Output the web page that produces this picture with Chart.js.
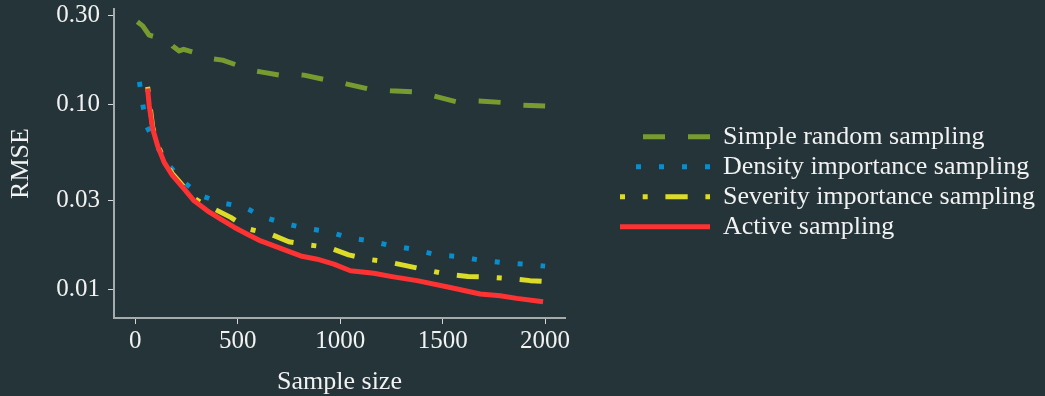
<!DOCTYPE html>
<html>
<head>
<meta charset="utf-8">
<script src="https://cdn.jsdelivr.net/npm/chart.js@4.4.1/dist/chart.umd.min.js"></script>
<style>
  html, body { margin: 0; padding: 0; background: #243439; }
  canvas { display: block; }
</style>
</head>
<body>
<canvas id="c" width="1045" height="396"></canvas>
<script>
// ---------------- data ----------------
const seriesNames = ['Simple random sampling', 'Density importance sampling', 'Severity importance sampling', 'Active sampling'];

const randomX = [10, 36, 68, 166, 182, 214, 236, 333, 369, 426, 528, 563, 612, 725, 774, 823, 953, 993, 1034, 1144, 1196, 1245, 1358, 1407, 1453, 1570, 1618, 1667, 1789, 1837, 1886, 2000];
const randomY = [0.279, 0.265, 0.236, 0.220, 0.2065, 0.194, 0.198, 0.184, 0.1766, 0.173, 0.158, 0.153, 0.1495, 0.1423, 0.1453, 0.1435, 0.1337, 0.132, 0.1283, 0.1205, 0.119, 0.118, 0.1165, 0.1146, 0.111, 0.1028, 0.1042, 0.1042, 0.1021, 0.100, 0.0988, 0.0978];

const densityX = [20, 36, 57, 106, 166, 231, 315, 421, 527, 622, 724, 830, 937, 1039, 1146, 1253, 1360, 1469, 1577, 1685, 1795, 1906, 2000];
const densityY = [0.132, 0.100, 0.0754, 0.059, 0.0464, 0.0384, 0.0322, 0.0292, 0.0279, 0.0246, 0.0227, 0.0213, 0.0205, 0.019, 0.0182, 0.0171, 0.0164, 0.0153, 0.015, 0.0143, 0.0139, 0.0136, 0.0133];

const severityX = [60, 85, 109, 141, 182, 239, 287, 340, 385, 466, 555, 661, 749, 847, 943, 1041, 1131, 1235, 1332, 1431, 1527, 1624, 1723, 1829, 1927, 1990];
const severityY = [0.124, 0.075, 0.0607, 0.0495, 0.042, 0.0355, 0.031, 0.0285, 0.0271, 0.0244, 0.0211, 0.0198, 0.018, 0.0173, 0.0168, 0.0153, 0.0145, 0.0140, 0.0133, 0.0126, 0.0120, 0.0117, 0.0116, 0.0114, 0.0111, 0.0110];

const activeX = [60, 68, 85, 109, 141, 182, 239, 287, 352, 417, 482, 547, 612, 677, 807, 888, 969, 1050, 1164, 1253, 1375, 1537, 1683, 1780, 1862, 1990];
const activeY = [0.1216, 0.0979, 0.0733, 0.0595, 0.0484, 0.041, 0.0347, 0.030, 0.0265, 0.0239, 0.0216, 0.0198, 0.0182, 0.0171, 0.0151, 0.0145, 0.01364, 0.01256, 0.01216, 0.01167, 0.0111, 0.0102, 0.0094, 0.0092, 0.0089, 0.00853];

const xTicks = [0, 500, 1000, 1500, 2000];
const xTickLabels = ['0', '500', '1000', '1500', '2000'];
const yTicks = [0.01, 0.03, 0.1, 0.3];
const yTickLabels = ['0.01', '0.03', '0.10', '0.30'];

// ---------------- styles ----------------
const TEXT = '#f2f2f2';
const AXIS = '#a3abad';
const TICK = '#d6d6d6';
const FONT = "'Liberation Serif', 'Times New Roman', 'DejaVu Serif', serif";
const colors = ['#789b30', '#0a8dcc', '#dcdc28', '#fd3333'];
const dashes = [[22, 23], [5, 18], [5, 18, 22, 18], []];
const legendDashes = [[22, 23, 22, 36], [5, 18, 5, 18, 5, 18, 5, 29], [5, 17.7, 5, 17.7, 22.3, 17.7, 5, 13], [90, 13]];
const legendDashOffsets = [67, 74, 90.4, 90];
const drawOrder = [4, 3, 2, 1];

const xs = [randomX, densityX, severityX, activeX];
const ys = [randomY, densityY, severityY, activeY];

Chart.defaults.font.family = FONT;
Chart.defaults.color = TEXT;

let layoutRight = 0;
let layoutTop = 9;
let padW = 40;

const datasets = seriesNames.map((name, i) => ({
  label: name,
  data: xs[i].map((x, j) => ({ x: x, y: ys[i][j] })),
  borderColor: colors[i],
  backgroundColor: colors[i],
  borderWidth: 5,
  borderDash: dashes[i],
  borderCapStyle: 'butt',
  borderJoinStyle: 'round',
  pointRadius: 0,
  pointHoverRadius: 0,
  tension: 0,
  fill: false,
  order: drawOrder[i]
}));

const chart = new Chart(document.getElementById('c'), {
  type: 'line',
  data: { datasets },
  options: {
    responsive: false,
    animation: false,
    events: [],
    layout: { padding: { top: layoutTop, right: layoutRight, bottom: 0, left: 0 } },
    plugins: {
      tooltip: { enabled: false },
      legend: {
        position: 'right',
        align: 'start',
        maxWidth: 2000,
        title: { display: true, text: '', font: { size: 10 }, padding: { top: 0, bottom: 98.7 } },
        labels: {
          usePointStyle: true,
          pointStyle: 'line',
          pointStyleWidth: 103,
          boxWidth: 103,
          padding: 4,
          color: TEXT,
          font: { size: 26, family: FONT },
          generateLabels: (ch) => ch.data.datasets.map((ds, i) => ({
            text: ds.label,
            fillStyle: ds.borderColor,
            strokeStyle: ds.borderColor,
            lineWidth: ds.borderWidth,
            lineDash: legendDashes[i],
            lineDashOffset: legendDashOffsets[i],
            lineCap: 'butt',
            lineJoin: 'miter',
            pointStyle: 'line',
            rotation: 0,
            fontColor: TEXT,
            hidden: false,
            datasetIndex: i
          }))
        }
      }
    },
    scales: {
      x: {
        type: 'linear',
        min: -104,
        max: 2097,
        afterBuildTicks: (s) => { s.ticks = xTicks.map(v => ({ value: v })); },
        afterFit: (s) => { s.height = 78; },
        ticks: {
          autoSkip: false, maxRotation: 0, padding: 2, color: TEXT,
          font: { size: 25 },
          callback: (v, i) => xTickLabels[i]
        },
        grid: { drawOnChartArea: false, drawTicks: true, tickLength: 6, tickColor: TICK, tickWidth: 1 },
        border: { display: true, color: AXIS, width: 2 },
        title: { display: true, text: 'Sample size', color: TEXT, font: { size: 26, lineHeight: 1.06 }, padding: { top: 0, bottom: 0 } }
      },
      y: {
        type: 'logarithmic',
        position: 'left',
        min: 0.00697,
        max: 0.327,
        afterBuildTicks: (s) => { s.ticks = yTicks.map(v => ({ value: v })); },
        afterFit: (s) => { s.width = 114; },
        ticks: {
          autoSkip: false, padding: 8, color: TEXT,
          font: { size: 25, lineHeight: 0.05 },
          callback: (v, i) => yTickLabels[i]
        },
        grid: { drawOnChartArea: false, drawTicks: true, tickLength: 6, tickColor: TICK, tickWidth: 1 },
        border: { display: true, color: AXIS, width: 2 },
        title: { display: true, text: 'RMSE', color: TEXT, font: { size: 26 }, padding: { top: 6, bottom: 0 } }
      },
      gap: {
        type: 'linear',
        position: 'right',
        display: true,
        afterFit: (s) => { s.width = padW; },
        ticks: { display: false },
        grid: { display: false, drawTicks: false },
        border: { display: false }
      }
    }
  }
});

// align legend keys at x=607, plot top at y=9 and plot right edge at x=565
for (let k = 0; k < 4; k++) {
  const hb = chart.legend.legendHitBoxes[0];
  const dx = hb.left - 607;
  const cr = chart.chartArea.right;
  const dt = chart.chartArea.top - 9;
  layoutRight += dx;
  layoutTop -= dt;
  padW += (cr - dx - 565);
  chart.options.layout.padding.right = layoutRight;
  chart.options.layout.padding.top = layoutTop;
  chart.options.plugins.legend.title.padding.bottom = 98.7 - (layoutTop - 9);
  chart.update();
}
</script>
</body>
</html>
